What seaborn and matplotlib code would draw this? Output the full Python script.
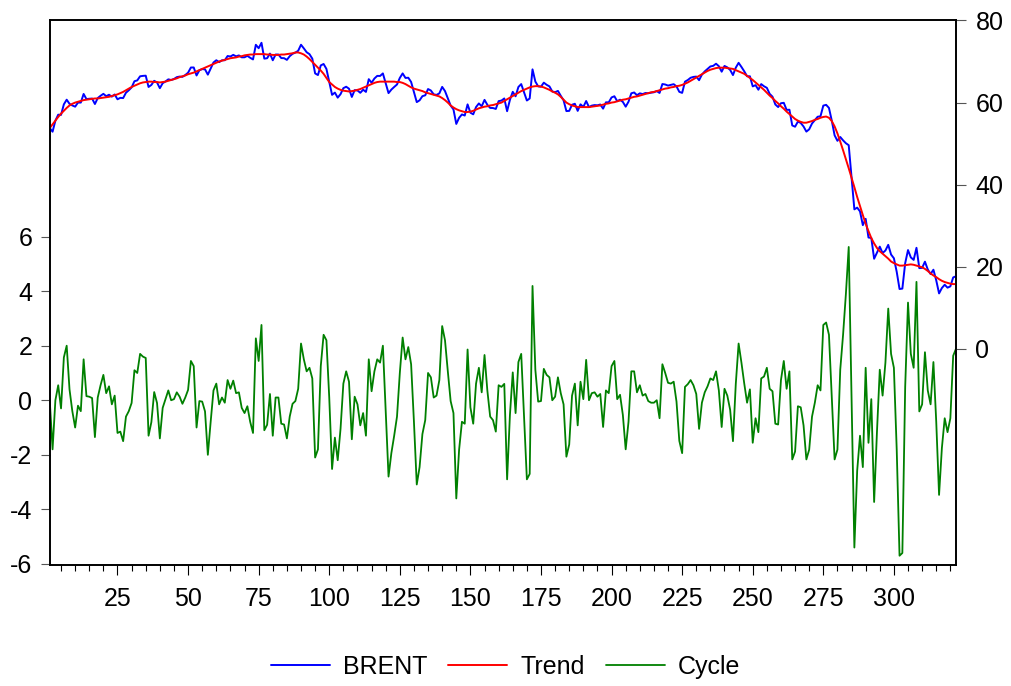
import numpy as np
import pandas as pd
import matplotlib
matplotlib.use("Agg")
import matplotlib.pyplot as plt
import seaborn as sns
from matplotlib.ticker import FixedLocator

# ---------------- data ----------------
# HP-filter decomposition: Trend (right axis), Cycle (left axis); BRENT = Trend + Cycle
trend = [
    53.8, 54.7, 55.6, 56.5, 57.3, 58.0, 58.7, 59.3, 59.7, 60.0,
    60.2, 60.4, 60.6, 60.7, 60.8, 60.9, 61.0, 61.0, 61.1, 61.2,
    61.3, 61.4, 61.6, 61.8, 62.0, 62.3, 62.6, 63.0, 63.4, 63.8,
    64.1, 64.4, 64.7, 64.9, 65.0, 65.1, 65.1, 65.0, 65.0, 64.9,
    65.0, 65.1, 65.3, 65.5, 65.7, 65.9, 66.2, 66.4, 66.6, 66.9,
    67.1, 67.3, 67.6, 67.9, 68.2, 68.5, 68.8, 69.1, 69.4, 69.7,
    70.0, 70.2, 70.4, 70.6, 70.8, 70.9, 71.0, 71.2, 71.3, 71.5,
    71.6, 71.7, 71.7, 71.8, 71.8, 71.8, 71.8, 71.7, 71.7, 71.6,
    71.6, 71.6, 71.7, 71.7, 71.8, 71.9, 72.0, 72.2, 72.2, 72.0,
    71.7, 71.2, 70.6, 69.9, 69.2, 68.5, 67.8, 67.0, 66.0, 65.0,
    64.4, 63.8, 63.4, 63.1, 62.9, 62.8, 62.7, 62.8, 62.9, 63.1,
    63.3, 63.6, 63.9, 64.2, 64.5, 64.8, 65.0, 65.1, 65.1, 65.1,
    65.1, 65.1, 65.1, 65.0, 65.0, 64.8, 64.5, 64.1, 63.7, 63.4,
    63.2, 63.0, 62.8, 62.5, 62.3, 62.1, 61.9, 61.7, 61.5, 61.1,
    60.6, 60.0, 59.3, 58.8, 58.4, 58.1, 57.9, 57.7, 57.7, 57.8,
    58.0, 58.3, 58.6, 58.8, 59.0, 59.1, 59.3, 59.4, 59.6, 59.8,
    60.0, 60.4, 60.8, 61.2, 61.6, 62.0, 62.4, 62.8, 63.1, 63.4,
    63.7, 63.9, 64.0, 64.0, 63.9, 63.7, 63.4, 63.1, 62.7, 62.4,
    62.0, 61.4, 60.7, 60.0, 59.6, 59.3, 59.1, 58.9, 58.9, 58.9,
    58.9, 58.9, 59.0, 59.1, 59.2, 59.3, 59.5, 59.7, 59.8, 60.0,
    60.1, 60.3, 60.5, 60.7, 60.8, 61.0, 61.2, 61.4, 61.5, 61.7,
    61.9, 62.1, 62.3, 62.5, 62.6, 62.8, 63.0, 63.2, 63.4, 63.5,
    63.7, 63.8, 64.0, 64.1, 64.3, 64.6, 64.9, 65.3, 65.7, 66.1,
    66.5, 66.9, 67.3, 67.7, 68.0, 68.2, 68.4, 68.5, 68.5, 68.5,
    68.4, 68.3, 68.2, 67.9, 67.6, 67.3, 67.0, 66.5, 66.0, 65.5,
    64.9, 64.3, 63.7, 63.1, 62.4, 61.7, 61.1, 60.4, 59.8, 59.1,
    58.5, 57.8, 57.2, 56.6, 56.0, 55.6, 55.3, 55.1, 55.1, 55.3,
    55.5, 55.8, 56.0, 56.3, 56.5, 56.6, 56.3, 55.5, 54.2, 52.5,
    50.5, 48.4, 46.2, 44.0, 41.7, 39.4, 37.0, 34.8, 32.6, 30.5,
    28.7, 27.0, 25.7, 24.6, 23.8, 23.2, 22.6, 22.0, 21.3, 20.9,
    20.6, 20.3, 20.3, 20.4, 20.5, 20.6, 20.5, 20.3, 20.1, 19.9,
    19.5, 19.0, 18.4, 17.9, 17.5, 17.0, 16.6, 16.3, 16.1, 15.9,
    15.8, 15.8,
]

cycle = [
    0.0, -1.8, 0.0, 0.55, -0.3, 1.57, 2.0, 0.4, -0.4, -1.0,
    -0.2, -0.4, 1.5, 0.15, 0.13, 0.08, -1.35, 0.1, 0.55, 0.93,
    0.26, 0.51, -0.15, 0.17, -1.2, -1.15, -1.5, -0.6, -0.4, -0.1,
    1.1, 1.0, 1.7, 1.6, 1.55, -1.3, -0.8, 0.3, -0.1, -1.4,
    -0.28, 0.04, 0.36, 0.0, 0.04, 0.29, 0.13, -0.13, 0.1, 0.38,
    1.44, 1.25, -1.0, -0.03, -0.05, -0.41, -2.0, -0.79, 0.36, 0.61,
    -0.15, 0.1, -0.09, 0.74, 0.42, 0.72, 0.26, 0.29, -0.28, -0.47,
    -0.22, -0.79, -1.2, 2.27, 1.44, 2.76, -1.1, -0.9, 0.23, -1.3,
    0.1, 0.1, -0.86, -0.89, -1.4, -0.6, -0.13, -0.03, 0.42, 2.08,
    1.5, 1.06, 1.19, 0.8, -2.1, -1.8, 1.25, 2.4, 2.2, 0.1,
    -2.52, -1.37, -2.2, -1.05, 0.61, 1.06, 0.68, -1.43, 0.13, -0.15,
    -0.92, -0.47, -1.3, 1.5, 0.33, 1.06, 1.5, 1.38, 2.0, -0.4,
    -2.8, -1.94, -1.3, -0.6, 1.0, 2.3, 1.5, 1.95, 1.32, -0.79,
    -3.09, -2.45, -1.24, -0.73, 1.0, 0.84, 0.1, 0.17, 0.74, 2.72,
    2.2, 1.06, -0.03, -0.47, -3.6, -1.81, -0.79, -0.86, 1.86, -0.26,
    -0.86, 0.61, 1.19, 0.29, 1.66, 0.36, -0.6, -0.73, -1.15, 0.55,
    0.49, 0.6, -2.9, -0.54, 1.02, -0.47, 1.4, 1.7, -0.6, -2.9,
    -2.7, 4.19, 1.12, -0.05, -0.03, 1.15, 0.93, 0.84, 0.0, 0.13,
    0.84, 0.26, -0.15, -2.07, -1.62, 0.17, 0.61, -0.92, 0.68, 0.04,
    1.48, 0.0, 0.26, 0.29, 0.13, 0.23, -0.98, 0.36, 0.26, 1.25,
    1.44, 0.04, 0.2, -0.54, -1.8, -0.79, 1.06, 1.06, 0.29, 0.55,
    0.17, 0.23, -0.03, -0.09, -0.09, 0.0, -0.66, 1.32, 1.0, 0.64,
    0.61, 0.68, -0.05, -1.49, -1.94, 0.49, 0.59, 0.74, 0.55, 0.23,
    -1.05, -0.09, 0.29, 0.51, 0.8, 0.74, 1.06, 0.36, -0.98, 0.42,
    0.17, -0.35, -1.5, 0.6, 2.08, 1.38, 0.61, -0.09, 0.4, -1.56,
    -0.66, -1.17, 0.8, 0.87, 1.19, 0.42, 0.33, -0.86, -0.89, 0.74,
    1.44, 0.42, 1.06, -2.17, -1.88, -0.22, -0.26, -0.92, -2.17, -1.81,
    -0.6, -0.09, 0.55, 0.36, 2.76, 2.85, 2.4, 0.1, -2.17, -1.81,
    1.12, 2.4, 3.9, 5.62, 0.1, -5.4, -2.58, -1.3, -2.45, 1.19,
    -1.56, 0.04, -3.73, -1.17, 1.12, 0.17, 1.38, 3.36, 1.7, 1.19,
    -1.81, -5.7, -5.6, 0.49, 3.58, 1.7, 1.19, 4.34, -0.41, -0.15,
    1.76, 0.36, -0.15, 1.4, -0.79, -3.47, -1.75, -0.66, -1.17, -0.66,
    1.63, 1.89,
]

obs = list(range(1, len(trend) + 1))
series_names = ["BRENT", "Trend", "Cycle"]
x_major_ticks = list(range(25, 301, 25))
x_minor_ticks = list(range(5, 321, 5))
left_ticks = [-6, -4, -2, 0, 2, 4, 6]
right_ticks = [0, 20, 40, 60, 80]

df = pd.DataFrame({"obs": obs, "Trend": trend, "Cycle": cycle})
df["BRENT"] = df["Trend"] + df["Cycle"]   # HP identity: series = trend + cycle

# ---------------- style ----------------
sns.set_style("white")
plt.rcParams["font.family"] = ["Liberation Sans", "DejaVu Sans"]
plt.rcParams["axes.unicode_minus"] = False
plt.rcParams["text.color"] = "black"
plt.rcParams["xtick.labelcolor"] = "black"
plt.rcParams["ytick.labelcolor"] = "black"

fig = plt.figure(figsize=(10.11, 6.86), dpi=100)
ax1 = fig.add_axes([0.0492, 0.1764, 0.8964, 0.7944])
ax2 = ax1.twinx()

sns.lineplot(data=df, x="obs", y="Cycle", ax=ax1, color="#008000",
             linewidth=1.3, estimator=None)
sns.lineplot(data=df, x="obs", y="BRENT", ax=ax2, color="#0000FF",
             linewidth=1.4, estimator=None)
sns.lineplot(data=df, x="obs", y="Trend", ax=ax2, color="#FF0000",
             linewidth=1.4, estimator=None)

ax1.set_xlim(1, len(obs))
ax1.set_ylim(-6.04, 13.94)
ax2.set_ylim(-52.6, 80.1)

ax1.xaxis.set_major_locator(FixedLocator(x_major_ticks))
ax1.xaxis.set_minor_locator(FixedLocator(x_minor_ticks))
ax1.set_yticks(left_ticks)
ax1.set_yticklabels([str(v) for v in left_ticks])
ax2.set_yticks(right_ticks)
ax2.set_yticklabels([str(v) for v in right_ticks])

for a in (ax1, ax2):
    a.set_xlabel("")
    a.set_ylabel("")
    for s in a.spines.values():
        s.set_color("black")
        s.set_linewidth(1.2)

ax1.tick_params(axis="x", which="major", bottom=True, direction="out",
                length=7.5, width=0.8, color="black", pad=8,
                labelsize=18, labelcolor="black")
ax1.tick_params(axis="x", which="minor", bottom=True, direction="out",
                length=4.5, width=0.8, color="black")
ax1.tick_params(axis="y", left=True, direction="out", length=6.5,
                width=0.8, color="#555555", pad=6, labelsize=18,
                labelcolor="black")
ax2.tick_params(axis="y", right=True, direction="out", length=7,
                width=0.8, color="#555555", pad=7, labelsize=18,
                labelcolor="black")

handles = [ax2.lines[0], ax2.lines[1], ax1.lines[0]]
leg = fig.legend(handles, series_names, loc="center",
                 bbox_to_anchor=(0.5, 1 - 667 / 686), ncol=3, frameon=False,
                 fontsize=18, handlelength=2.36, handletextpad=0.52,
                 columnspacing=0.84)
for t in leg.get_texts():
    t.set_color("black")

fig.savefig("out.png", dpi=100)
